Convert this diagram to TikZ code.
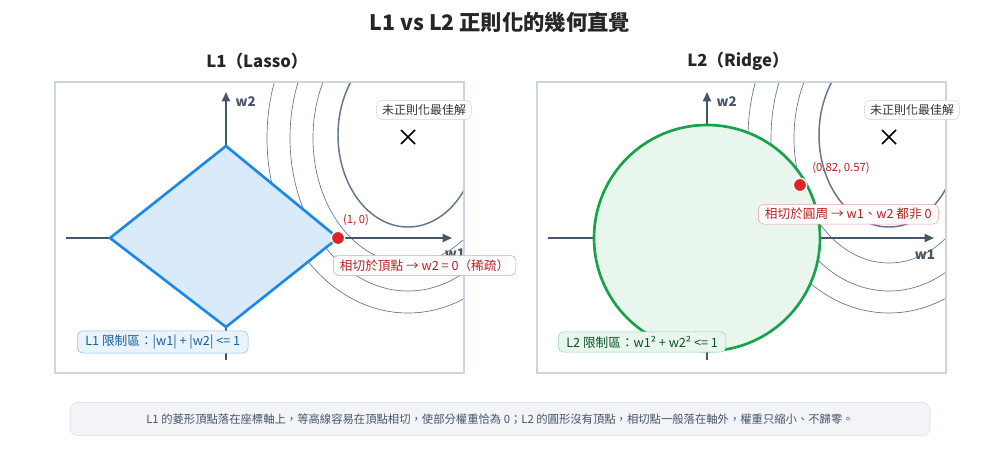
\documentclass[tikz,border=0pt]{standalone}
\usepackage{fontspec}
\setmainfont{Noto Sans CJK TC}
\usetikzlibrary{arrows.meta}
\definecolor{axis}{HTML}{475569}
\definecolor{frame}{HTML}{CBD5E1}
\definecolor{cont}{HTML}{64748B}
\definecolor{redc}{HTML}{DC2626}
\definecolor{bluec}{HTML}{1E88E5}
\definecolor{greenc}{HTML}{16A34A}
\tikzset{
  fs/.style={font=\fontsize{#1}{#1}\selectfont},
  panel/.style={draw=frame,line width=1.2pt},
  ax/.style={draw=axis,line width=1.3pt},
  axa/.style={ax,-{Triangle[length=7pt,width=6pt]}},
  axlab/.style={text=axis,font=\bfseries\fontsize{10}{10}\selectfont},
  ctr/.style={draw=cont,line width=0.5pt},
  ctrin/.style={draw=cont,line width=1.1pt},
  tag/.style={rounded corners=4pt,fill=white,draw=frame,fs=9,inner xsep=4pt,inner ysep=3pt,text=black!80},
  callout/.style={rounded corners=4pt,fill=white,draw=redc!45,fs=9.5,text=redc!85!black,inner xsep=5pt,inner ysep=3pt},
  dot/.style={circle,fill=redc,draw=white,line width=1pt,minimum size=10pt,inner sep=0pt},
  pt/.style={fs=8.5,text=redc!85!black},
  cross/.style={draw=black,line width=1.3pt},
}
\begin{document}
\begin{tikzpicture}[x=0.75pt,y=-0.75pt]
\useasboundingbox (0,0) rectangle (1000,450);
\fill[white] (0,0) rectangle (1000,450);
\node[font=\bfseries\fontsize{16}{16}\selectfont,text=black!85] (title) at (500,22) {L1 vs L2 正則化的幾何直覺};
\node[font=\bfseries\fontsize{12.5}{12.5}\selectfont,text=black!85] (t1) at (257,61) {L1（Lasso）};
\node[font=\bfseries\fontsize{12.5}{12.5}\selectfont,text=black!85] (t2) at (738,61) {L2（Ridge）};
% ---------- left panel
\begin{scope}
\clip (55,82) rectangle (464,373);
\foreach \rx/\ry in {95/125,118/153,141/175}{\draw[ctr] (408,138) ellipse ({\rx} and {\ry});}
\draw[ctrin] (408,135) ellipse (70 and 92);
\end{scope}
\draw[panel] (55,82) rectangle (464,373);
\coordinate (l0) at (226,238);
\draw[ax] (66,238) -- (l0);
\draw[axa] (226,238) -- (452,238);
\draw[ax] (226,360) -- (l0);
\draw[axa] (226,238) -- (226,92);
\node[axlab,anchor=west] (lw2) at (231,102) {w2};
\node[axlab] (lw1) at (455,254) {w1};
\coordinate (dA) at (110,238); \coordinate (dB) at (226,146);
\coordinate (dC) at (338,238); \coordinate (dD) at (226,327);
\draw[draw=bluec,fill=bluec!17,line width=2pt,line join=miter] (dA)--(dB)--(dC)--(dD)--cycle;
\node[dot] (p1) at (dC) {};
\node[pt] (p1l) at (356,220) {(1, 0)};
\node[callout,anchor=north west] (c1) at (333,255) {相切於頂點 → w2 = 0（稀疏）};
\node[tag] (o1) at (424,110) {未正則化最佳解};
\draw[cross] (401,130) -- (415,144) (415,130) -- (401,144);
\node[anchor=west,rounded corners=4pt,fill=bluec!10,draw=bluec!50,fs=9.5,text=bluec!70!black,inner xsep=6pt,inner ysep=3pt] (r1) at (77,342) {L1 限制區：|w1| + |w2| <= 1};
% ---------- right panel
\begin{scope}
\clip (537,82) rectangle (946,373);
\foreach \rx/\ry in {95/125,118/153,141/175}{\draw[ctr] (889,138) ellipse ({\rx} and {\ry});}
\draw[ctrin] (889,135) ellipse (70 and 92);
\end{scope}
\draw[panel] (537,82) rectangle (946,373);
\coordinate (r0) at (707,238);
\draw[ax] (548,238) -- (r0);
\draw[axa] (707,238) -- (934,238);
\draw[ax] (707,360) -- (r0);
\draw[axa] (707,238) -- (707,92);
\node[axlab,anchor=west] (rw2) at (712,102) {w2};
\node[axlab] (rw1) at (925,255) {w1};
\draw[draw=greenc,fill=greenc!10,line width=2pt] (r0) circle (113);
\node[dot] (p2) at (800,185) {};
\node[pt] (p2l) at (841,168) {(0.82, 0.57)};
\node[callout,anchor=north west] (c2) at (758,204) {相切於圓周 → w1、w2 都非 0};
\node[tag] (o2) at (912,110) {未正則化最佳解};
\draw[cross] (882,130) -- (896,144) (896,130) -- (882,144);
\node[anchor=west,rounded corners=4pt,fill=greenc!10,draw=greenc!45,fs=9.5,text=greenc!50!black,inner xsep=6pt,inner ysep=3pt] (r2) at (558,342) {L2 限制區：w1² + w2² <= 1};
% ---------- note
\node[rounded corners=6pt,fill=frame!25,draw=frame!80,minimum width=645pt,minimum height=25pt,fs=8.5,text=axis] (note) at (500,419) {L1 的菱形頂點落在座標軸上，等高線容易在頂點相切，使部分權重恰為 0；L2 的圓形沒有頂點，相切點一般落在軸外，權重只縮小、不歸零。};
\end{tikzpicture}
\end{document}
